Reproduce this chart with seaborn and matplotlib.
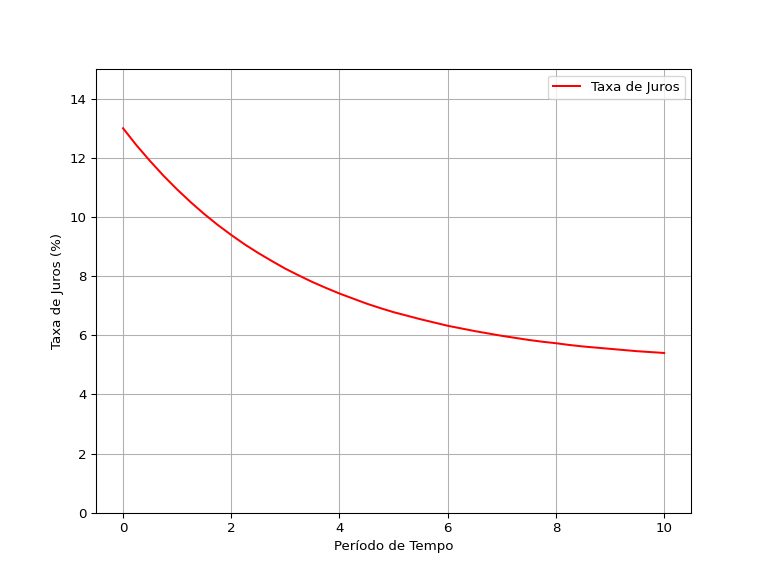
import pandas as pd
import matplotlib
matplotlib.use('Agg')
import matplotlib.pyplot as plt
import seaborn as sns

# Values
periodo = [0, 0.25, 0.5, 0.75, 1, 1.25, 1.5, 1.75, 2, 2.25, 2.5, 2.75, 3, 3.25,
           3.5, 3.75, 4, 4.25, 4.5, 4.75, 5, 5.25, 5.5, 5.75, 6, 6.25, 6.5,
           6.75, 7, 7.25, 7.5, 7.75, 8, 8.25, 8.5, 8.75, 9, 9.25, 9.5, 9.75, 10]
taxa = [13.00, 12.42, 11.89, 11.39, 10.93, 10.50, 10.10, 9.73, 9.39, 9.07,
        8.78, 8.51, 8.25, 8.02, 7.80, 7.60, 7.41, 7.24, 7.07, 6.92, 6.78,
        6.66, 6.54, 6.43, 6.32, 6.23, 6.14, 6.06, 5.98, 5.91, 5.84, 5.78,
        5.73, 5.67, 5.62, 5.58, 5.54, 5.50, 5.46, 5.43, 5.40]

df = pd.DataFrame({'periodo': periodo, 'taxa': taxa})

plt.figure(figsize=(8, 6), dpi=96)
sns.lineplot(data=df, x='periodo', y='taxa', color='red', label='Taxa de Juros')
plt.ylim(0, 15)
plt.xlabel('Período de Tempo')
plt.ylabel('Taxa de Juros (%)')
plt.grid()
plt.legend(loc='upper right')

plt.savefig('out.png', dpi=96)
